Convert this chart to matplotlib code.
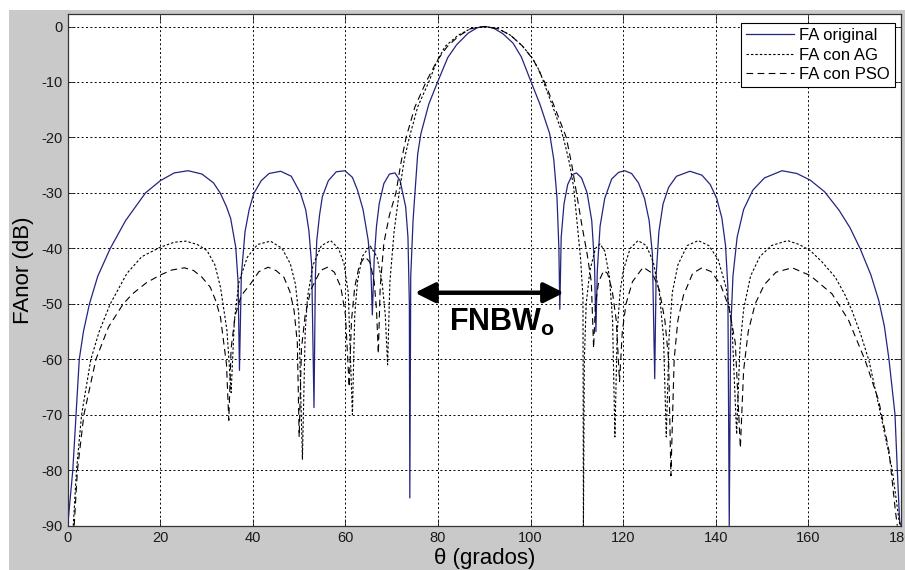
import matplotlib
matplotlib.use("Agg")
import matplotlib.pyplot as plt
from matplotlib.patches import Rectangle

# FA original (solid blue)
theta_orig = [0.0, 1.1, 1.8, 2.5, 3.4, 4.7, 6.5, 9.2, 12.5, 16.8, 20.0, 23.0, 26.0, 29.0, 31.5, 33.0, 34.3, 35.2, 36.3, 36.8, 37.1,
              37.5, 38.3, 39.2, 40.2, 41.8, 43.5, 46.0, 48.3, 50.3, 51.4, 52.1, 52.7, 53.2,
              53.5, 53.8, 54.4, 55.0, 56.3, 58.0, 59.9, 61.5, 62.6, 63.8, 64.9, 65.5, 65.8,
              66.2, 66.7, 67.3, 68.3, 69.5, 70.7, 71.8, 73.0, 73.5, 73.8, 73.9,
              74.1, 74.6, 74.9, 75.6, 76.3, 78.0, 79.9, 82.1, 84.0, 86.5, 88.5, 90.2, 92.0, 94.0, 96.2, 98.0,
              100.1, 102.0, 104.1, 105.0, 105.7, 106.1, 106.3,
              106.6, 107.2, 108.0, 109.0, 109.9, 111.0, 112.2, 113.2, 113.8, 114.1,
              114.4, 115.0, 116.0, 117.5, 119.0, 120.3, 121.8, 123.3, 124.6, 125.6, 126.3, 126.8,
              127.1, 127.7, 128.6, 129.8, 131.5, 134.4, 137.0, 138.8, 140.2, 141.3, 142.1, 142.6, 142.9,
              143.2, 143.7, 144.6, 146.0, 148.0, 150.5, 154.3, 157.5, 160.4, 163.5, 166.6, 169.0, 171.2,
              173.5, 175.2, 176.4, 177.4, 178.7, 179.2, 179.7, 180.0]
fa_orig = [-90, -80, -70, -60, -55, -50, -45, -40, -35, -30, -27.8, -26.4, -26.0, -26.6, -28.2, -30.1, -32.5, -34.6, -39.8, -46, -62,
           -45, -37, -33, -30.1, -27.8, -26.5, -26.1, -27, -30.1, -33, -36.8, -43, -68.7,
           -45, -38.6, -34, -30.7, -27.8, -26.2, -26.0, -27.2, -29.5, -33, -38.5, -44, -52,
           -42, -36, -31.9, -28.3, -26.6, -26.4, -27.8, -32.5, -38, -50, -85,
           -45, -35, -31.3, -23, -19.3, -14, -10, -5.6, -3.3, -1.2, -0.2, 0, -0.3, -1.3, -3.0, -5.5,
           -10, -14, -19.3, -24, -31, -40, -51,
           -38, -32, -28.5, -26.7, -26.4, -27.3, -30, -35, -43, -55,
           -44, -36, -31, -27.5, -26.3, -26.0, -26.5, -28.2, -31, -35, -41, -63.5,
           -45, -37, -32, -29, -27, -26.1, -26.8, -28.5, -31, -34.5, -39.5, -47, -90,
           -55, -45, -38, -33, -29.5, -27.3, -26.0, -26.5, -27.7, -29.8, -33.1, -36.3, -40.1,
           -44.8, -49.4, -54, -60, -69.9, -79.9, -89.2, -90]

# FA con AG (dotted black)
theta_ag = [1.2, 1.9, 3.0, 5.0, 6.8, 9.2, 12.8, 16.0, 20.0, 23.0, 25.5, 28.0, 30.1, 31.8, 33.0, 34.4, 35.3,
            36.0, 37.0, 38.8, 41.0, 43.8, 46.3, 48.1, 49.2, 49.9, 50.7,
            51.3, 51.8, 53.0, 54.8, 56.8, 58.5, 59.7, 60.6, 61.5,
            62.0, 62.6, 63.6, 65.3, 66.8, 67.9, 68.6, 69.1,
            69.6, 70.5, 71.6, 72.7, 73.8, 75.6, 78.0, 79.5, 81.5, 84.3, 87.0, 90.0, 93.0, 95.7, 98.2,
            100.3, 101.9, 102.8, 104.8, 106.6, 107.5, 108.4, 109.3, 110.2, 110.8, 111.3, 111.4,
            111.6, 112.0, 112.8, 114.0, 115.0, 116.0, 117.0, 117.7, 118.2,
            118.7, 119.3, 120.0, 121.5, 123.2, 125.0, 126.5, 127.8, 128.7, 129.3,
            129.9, 130.6, 131.8, 133.8, 136.2, 138.5, 140.5, 142.2, 143.5, 144.5,
            145.2, 146.0, 147.5, 149.5, 152.0, 155.5, 158.0, 160.4, 163.0, 165.8, 167.8, 169.4, 171.3,
            173.1, 175.6, 178.1, 179.6, 179.8]
fa_ag = [-90, -80, -70, -60, -55, -50, -44.5, -41.5, -39.8, -38.9, -38.7, -39.3, -40.4, -43, -47, -54.8, -66,
         -53, -46, -41.6, -39.3, -38.7, -40, -42.8, -46.5, -51.8, -78,
         -55, -48.8, -43, -39.5, -38.6, -40, -42.8, -48, -70,
         -52, -46, -41.5, -39.5, -41.5, -46, -52, -61,
         -46, -37, -30, -24, -20, -14.5, -10, -6.8, -3.6, -1.6, -0.4, 0, -0.4, -1.6, -3.5,
         -5.6, -8, -10, -14.5, -18.7, -21.5, -24.7, -29, -36.8, -42, -48.8, -90,
         -60, -50, -44, -40, -39.2, -40.5, -45, -53, -74,
         -55, -48, -44, -40, -38.6, -39.5, -42.5, -48, -56, -74,
         -56, -48, -43, -39.5, -38.6, -39.5, -42, -47, -54, -73.5,
         -58, -51, -45, -41.5, -39.5, -38.6, -39.3, -40.4, -42.5, -45.2, -48.2, -51.2, -55.5,
         -60.3, -69.9, -79.9, -89.2, -90]

# FA con PSO (dashed black)
theta_pso = [1.4, 2.1, 3.5, 6.1, 8.8, 12.0, 14.0, 17.0, 20.0, 22.5, 25.2, 27.2, 29.0, 30.8, 32.0, 33.0, 34.3, 34.8,
             35.3, 36.2, 37.5, 39.5, 41.3, 43.3, 45.0, 46.7, 48.0, 48.9, 49.6, 50.0,
             50.5, 51.3, 52.5, 54.6, 56.1, 57.6, 59.0, 60.0, 60.8,
             61.3, 62.0, 63.0, 64.2, 65.3, 66.2, 66.7, 67.1,
             67.5, 68.3, 69.5, 70.9, 72.0, 73.1, 75.0, 77.4, 79.9, 82.0, 84.5, 87.0, 90.0, 93.0, 95.7, 98.2,
             100.6, 103.0, 105.3, 107.7, 108.9, 109.9, 111.0, 112.2, 113.1, 113.6,
             114.0, 114.7, 115.8, 116.6, 117.6, 118.5, 119.2,
             119.8, 120.6, 122.0, 124.3, 126.3, 127.8, 129.0, 129.8, 130.3,
             131.0, 131.8, 133.0, 135.0, 137.0, 139.0, 141.0, 142.8, 144.2, 145.3,
             146.0, 147.0, 148.5, 150.5, 153.0, 156.5, 160.4, 165.1, 168.7, 172.3, 175.2, 177.4, 178.8, 179.2]
fa_pso = [-90, -80, -70, -60, -54.2, -50, -48.2, -46.2, -44.8, -43.9, -43.5, -44, -45.2, -47, -49.5, -52.4, -60.9, -71,
          -58, -52, -48.5, -46.4, -44.2, -43.4, -44, -45.2, -47.8, -51.2, -57, -74,
          -58, -52, -47.5, -44, -43.4, -44.3, -47, -52, -65,
          -53, -47, -43, -41.5, -42.5, -46, -51, -59,
          -47, -39, -34, -30, -24.5, -20, -14.5, -10, -6, -3.6, -1.7, -0.4, 0, -0.4, -1.6, -3.5,
          -6, -10, -14.8, -20, -25, -30, -35.5, -41, -46, -58,
          -50, -46, -44, -44.5, -47.5, -53, -64,
          -55, -50, -46, -43.4, -44.5, -47.5, -53, -60, -81,
          -60, -53, -48.5, -44.5, -43.5, -44.2, -46.5, -50.5, -57, -76,
          -62, -55, -50, -46.5, -44.3, -43.5, -44.9, -48.2, -53.0, -60.3, -67.5, -76.5, -87.4, -90]

x_ticks = list(range(0, 181, 20))
y_ticks = list(range(-90, 1, 10))
labels = ["FA original", "FA con AG", "FA con PSO"]

plt.rcParams['font.family'] = ['Liberation Sans', 'DejaVu Sans']
plt.rcParams['axes.unicode_minus'] = False
plt.rcParams['mathtext.fontset'] = 'custom'
plt.rcParams['mathtext.bf'] = 'Liberation Sans:bold'
plt.rcParams['mathtext.rm'] = 'Liberation Sans'

fig = plt.figure(figsize=(9.05, 5.7), dpi=100)
fig.patch.set_facecolor('white')
# MATLAB-like grey figure area (screenshot has a thin white border top/left)
bg = Rectangle((9 / 905, 0), 1, 1 - 10 / 570, transform=fig.transFigure,
               facecolor='#c9c9c9', edgecolor='none', zorder=-10)
fig.add_artist(bg)

ax = fig.add_axes([67.7 / 905, 44.3 / 570, 833.3 / 905, 511.4 / 570])
ax.set_zorder(1)
ax.set_facecolor('white')

ax.plot(theta_orig, fa_orig, color='#24247f', lw=0.9, label=labels[0], zorder=3)
ax.plot(theta_ag, fa_ag, color='black', lw=0.8, linestyle=(0, (2.2, 1.8)), label=labels[1], zorder=3)
ax.plot(theta_pso, fa_pso, color='black', lw=0.8, linestyle=(0, (6, 4)), label=labels[2], zorder=3)

ax.set_xlim(0, 180)
ax.set_ylim(-90, 2.2)
ax.set_xticks(x_ticks)
ax.set_yticks(y_ticks)
ax.tick_params(direction='in', length=5, width=0.6, top=True, right=True,
               labelsize=10.5, colors='#1a1a1a', pad=4)
ax.grid(True, color='black', linestyle=(0, (2, 2.5)), lw=0.7)
for s in ax.spines.values():
    s.set_linewidth(0.9)
    s.set_color('#333333')

ax.set_xlabel('θ (grados)', fontsize=16, labelpad=2)
ax.set_ylabel('FAnor (dB)', fontsize=16, labelpad=5)

leg = ax.legend(loc='upper right', bbox_to_anchor=(0.9928, 0.983), borderaxespad=0,
                fancybox=False, framealpha=1, edgecolor='black', fontsize=12,
                handlelength=2.9, handletextpad=0.3, labelspacing=0.28, borderpad=0.3)
leg.get_frame().set_linewidth(0.8)

# FNBW annotation
ax.annotate('', xy=(75.0, -48.0), xytext=(107.2, -48.0),
            arrowprops=dict(arrowstyle='<|-|>', lw=3.2, color='black',
                            mutation_scale=30, shrinkA=0, shrinkB=0), zorder=5)
ax.text(82.4, -54.8, r'FNBW$_\mathbf{o}$', fontsize=22, fontweight='bold',
        ha='left', va='baseline', zorder=5)

fig.savefig('out.png', dpi=100, facecolor=fig.get_facecolor())
